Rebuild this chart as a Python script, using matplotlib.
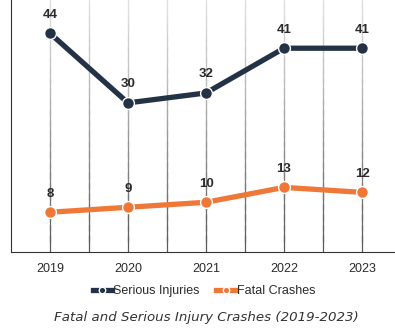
import matplotlib.pyplot as plt
import numpy as np
from matplotlib.collections import LineCollection

# Dados
YEARS = ["2019", "2020", "2021", "2022", "2023"]
SERIOUS_INJURIES = [44, 30, 32, 41, 41]
FATAL_CRASHES = [8, 9, 10, 13, 12]

NAVY = "#243246"
ORANGE = "#ef7838"
TEXT = "#2b2b2b"

plt.rcParams["font.family"] = ["Liberation Sans", "DejaVu Sans"]

fig = plt.figure(figsize=(3.95, 3.29), dpi=100)
ax = fig.add_axes([11 / 395, 77 / 329, 390 / 395, 252 / 329])

x = list(range(len(YEARS)))
YTOP = 50.7

# grade vertical (escurece em direção à base)
levels = np.linspace(0, YTOP, 25)
step = levels[1] - levels[0]
for pos in x:
    for gx in (pos, pos + 0.5):
        segs = [[(gx, levels[i]), (gx, levels[i + 1] + step * 0.6)] for i in range(len(levels) - 1)]
        shades = [plt.cm.Greys(0.72 - 0.5 * i / (len(segs) - 1)) for i in range(len(segs))]
        ax.add_collection(LineCollection(segs, colors=shades, linewidths=0.9,
                                         capstyle="butt", zorder=0))

ax.plot(x, SERIOUS_INJURIES, color=NAVY, lw=3.8, marker="o", ms=8.5,
        mec="white", mew=1.0, label="Serious Injuries", zorder=3)
ax.plot(x, FATAL_CRASHES, color=ORANGE, lw=3.8, marker="o", ms=8.5,
        mec="white", mew=1.0, label="Fatal Crashes", zorder=3)

for xi, v in zip(x, SERIOUS_INJURIES):
    ax.annotate(str(v), (xi, v), xytext=(0, 9), textcoords="offset points",
                ha="center", va="bottom", fontsize=9.5, fontweight="bold", color=TEXT)
for xi, v in zip(x, FATAL_CRASHES):
    ax.annotate(str(v), (xi, v), xytext=(0, 9), textcoords="offset points",
                ha="center", va="bottom", fontsize=9.5, fontweight="bold", color=TEXT)

ax.set_xlim(-0.5, 4.5)
ax.set_ylim(0, YTOP)
ax.set_xticks(x)
ax.set_xticklabels(YEARS, fontsize=9, color=TEXT)
ax.tick_params(axis="x", length=0, pad=8)
ax.set_yticks([])
for side in ["top", "right"]:
    ax.spines[side].set_visible(False)
ax.spines["left"].set_color("#333333")
ax.spines["bottom"].set_color("#333333")

fig.legend(loc="center", bbox_to_anchor=(204 / 395, 1 - 291 / 329), ncol=2,
           frameon=False, fontsize=9, handlelength=1.5, handletextpad=0.15,
           columnspacing=1.3, markerscale=0.55, labelcolor=TEXT)

fig.text(206 / 395, 1 - 318 / 329, "Fatal and Serious Injury Crashes (2019-2023)",
         ha="center", va="center", fontsize=9.6, style="italic", color="#333333",
         family=["DejaVu Sans"])

plt.savefig("out.png", dpi=100)
plt.close(fig)
